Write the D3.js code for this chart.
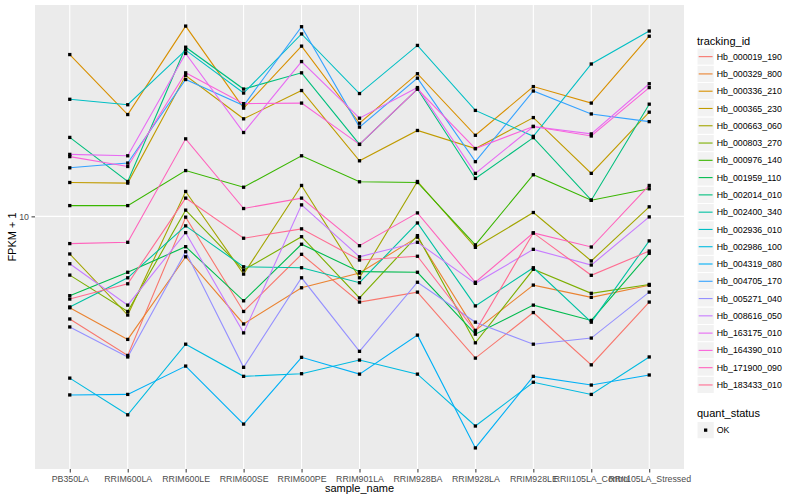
<!DOCTYPE html>
<html><head><meta charset="utf-8">
<script src="https://cdn.jsdelivr.net/npm/d3@7"></script>
<style>body{margin:0;background:#fff}text{font-family:"Liberation Sans",Arial,sans-serif}</style>
</head><body>
<svg id="c" width="800" height="500"></svg>
<script>
const samples = ["PB350LA","RRIM600LA","RRIM600LE","RRIM600SE","RRIM600PE","RRIM901LA","RRIM928BA","RRIM928LA","RRIM928LE","RRII105LA_Control","RRII105LA_Stressed"];
const trackingIds = ["Hb_000019_190","Hb_000329_800","Hb_000336_210","Hb_000365_230","Hb_000663_060","Hb_000803_270","Hb_000976_140","Hb_001959_110","Hb_002014_010","Hb_002400_340","Hb_002936_010","Hb_002986_100","Hb_004319_080","Hb_004705_170","Hb_005271_040","Hb_008616_050","Hb_163175_010","Hb_164390_010","Hb_171900_090","Hb_183433_010"];
const seriesColors = ["#F8766D","#EA8331","#D89000","#C09B00","#A3A500","#7CAE00","#39B600","#00BB4E","#00BF7D","#00C1A3","#00BFC4","#00BAE0","#00B0F6","#35A2FF","#9590FF","#C77CFF","#E76BF3","#FA62DB","#FF62BC","#FF6C91"];
const quantStatus = ["OK"];
const yTicks = [10];

// FPKM + 1 values per gene, in sample order
const hb_000019_190 = [4.56,3.45,9.94,4.83,7.48,5.19,5.60,3.38,4.79,3.21,5.19];
const hb_000329_800 = [4.97,3.90,7.34,4.39,5.79,6.48,8.53,4.18,5.91,5.38,5.90];
const hb_000336_210 = [34.5,21.8,42.9,22.9,36.8,20.4,29.8,18.6,27.0,23.8,39.7];
const hb_000365_230 = [12.96,12.9,29.4,21.1,26.2,15.3,19.3,16.8,21.3,13.9,22.2];
const hb_000663_060 = [7.50,4.70,12.10,6.43,12.67,6.25,13.06,7.89,10.30,7.11,10.76];
const hb_000803_270 = [6.38,4.83,10.49,6.63,8.56,5.36,8.63,3.80,6.67,5.55,5.94];
const hb_000976_140 = [10.86,10.86,14.2,12.5,15.9,13.03,12.96,8.04,13.75,11.32,12.35];
const hb_001959_110 = [5.45,6.52,7.93,5.24,8.08,6.55,6.52,4.06,5.07,4.51,7.54];
const hb_002014_010 = [18.3,13.06,36.5,26.5,30.0,17.35,26.5,13.37,18.27,11.32,23.6];
const hb_002400_340 = [5.00,6.25,9.30,6.80,6.75,6.02,9.51,5.04,6.75,4.45,8.29];
const hb_002936_010 = [24.5,23.5,35.7,25.7,40.4,25.6,37.0,22.5,18.45,32.1,41.3];
const hb_002986_100 = [2.90,2.19,3.76,2.94,3.00,3.33,2.99,2.01,2.81,2.56,3.41];
const hb_004319_080 = [2.55,2.56,3.18,2.04,3.40,2.99,4.03,1.70,2.94,2.75,2.97];
const hb_004705_170 = [14.5,15.04,28.5,23.35,42.7,19.8,28.8,15.2,26.1,21.9,20.65];
const hb_005271_040 = [4.29,3.41,7.63,3.15,6.25,3.56,6.04,4.45,3.76,3.94,5.60];
const hb_008616_050 = [6.96,5.07,8.83,4.10,10.92,7.34,8.20,5.99,7.77,6.89,9.96];
const hb_163175_010 = [16.07,15.9,34.8,19.0,32.7,21.2,26.8,13.9,19.9,18.8,27.6];
const hb_164390_010 = [15.8,14.65,30.0,23.7,23.8,17.35,26.5,16.8,19.9,18.5,26.8];
const hb_171900_090 = [8.12,8.20,18.1,10.62,11.50,7.99,10.27,6.04,8.81,7.91,12.67];
const hb_183433_010 = [5.31,5.97,11.50,8.46,9.09,7.16,7.37,4.15,8.81,6.37,7.67];

const seriesValues = [hb_000019_190,hb_000329_800,hb_000336_210,hb_000365_230,hb_000663_060,hb_000803_270,hb_000976_140,hb_001959_110,hb_002014_010,hb_002400_340,hb_002936_010,hb_002986_100,hb_004319_080,hb_004705_170,hb_005271_040,hb_008616_050,hb_163175_010,hb_164390_010,hb_171900_090,hb_183433_010];

const series = trackingIds.map((id,i)=>({id, color: seriesColors[i], values: seriesValues[i].map((v,j)=>({sample: samples[j], value: v}))}));

const svg = d3.select("#c");
const P = {left:35, right:684, top:5, bottom:469};

const x = d3.scalePoint().domain(samples).range([P.left, P.right]).padding(0.6);
const all = seriesValues.flat();
const lmin = Math.log10(d3.min(all)), lmax = Math.log10(d3.max(all));
const ex = (lmax - lmin) * 0.05;
const y = d3.scaleLog().domain([Math.pow(10, lmin - ex), Math.pow(10, lmax + ex)]).range([P.bottom, P.top]);

// panel
svg.append("rect").attr("x",P.left).attr("y",P.top).attr("width",P.right-P.left).attr("height",P.bottom-P.top).attr("fill","#EBEBEB");
const grid = svg.append("g");
samples.forEach(s=>grid.append("line").attr("x1",x(s)).attr("x2",x(s)).attr("y1",P.top).attr("y2",P.bottom).attr("stroke","#fff").attr("stroke-width",1.07));
yTicks.forEach(t=>grid.append("line").attr("x1",P.left).attr("x2",P.right).attr("y1",y(t)).attr("y2",y(t)).attr("stroke","#fff").attr("stroke-width",1.07));

// lines
const line = d3.line().x(d=>x(d.sample)).y(d=>y(d.value));
svg.append("g").selectAll("path").data(series).join("path")
  .attr("d", d=>line(d.values)).attr("fill","none").attr("stroke", d=>d.color).attr("stroke-width",1.1);

// points
const ps = 3.3;
svg.append("g").selectAll("g").data(series).join("g").selectAll("rect").data(d=>d.values).join("rect")
  .attr("x", d=>x(d.sample)-ps/2).attr("y", d=>y(d.value)-ps/2).attr("width",ps).attr("height",ps).attr("fill","#000");

// axes
const xAxis = d3.axisBottom(x).tickSize(3.5).tickPadding(3);
const gx = svg.append("g").attr("transform",`translate(0,${P.bottom})`).call(xAxis);
gx.select(".domain").remove();
gx.selectAll(".tick line").attr("stroke","#333").attr("stroke-width",1);
gx.selectAll(".tick text").attr("fill","#4D4D4D").style("font-size","8.8px").style("font-family","'Liberation Sans',Arial,sans-serif");

const yAxis = d3.axisLeft(y).tickValues(yTicks).tickFormat(d3.format("d")).tickSize(3.5).tickPadding(2.5);
const gy = svg.append("g").attr("transform",`translate(${P.left},0)`).call(yAxis);
gy.select(".domain").remove();
gy.selectAll(".tick line").attr("stroke","#333").attr("stroke-width",1);
gy.selectAll(".tick text").attr("fill","#4D4D4D").style("font-size","8.8px").style("font-family","'Liberation Sans',Arial,sans-serif");

svg.append("text").attr("x",(P.left+P.right)/2).attr("y",492).attr("text-anchor","middle").style("font-size","11px").attr("fill","#000").text("sample_name");
svg.append("text").attr("transform",`translate(15.5,${(P.top+P.bottom)/2}) rotate(-90)`).attr("text-anchor","middle").style("font-size","11px").attr("fill","#000").text("FPKM + 1");

// legend
const L = {x:697, top:48, key:17.28};
svg.append("text").attr("x",L.x).attr("y",44.5).style("font-size","11px").attr("fill","#000").text("tracking_id");
const lg = svg.append("g").selectAll("g").data(series).join("g").attr("transform",(d,i)=>`translate(${L.x},${L.top+i*L.key})`);
lg.append("rect").attr("width",L.key).attr("height",L.key).attr("fill","#F2F2F2").attr("stroke","#fff").attr("stroke-width",1);
lg.append("line").attr("x1",1.7).attr("x2",L.key-1.7).attr("y1",L.key/2).attr("y2",L.key/2).attr("stroke",d=>d.color).attr("stroke-width",1.1);
lg.append("text").attr("x",L.key+2.5).attr("y",L.key/2+3.1).style("font-size","8.8px").attr("fill","#000").text(d=>d.id);

const qTop = 421.5;
svg.append("text").attr("x",L.x).attr("y",417).style("font-size","11px").attr("fill","#000").text("quant_status");
const qg = svg.append("g").selectAll("g").data(quantStatus).join("g").attr("transform",(d,i)=>`translate(${L.x},${qTop+i*L.key})`);
qg.append("rect").attr("width",L.key).attr("height",L.key).attr("fill","#F2F2F2").attr("stroke","#fff").attr("stroke-width",1);
qg.append("rect").attr("x",L.key/2-ps/2).attr("y",L.key/2-ps/2).attr("width",ps).attr("height",ps).attr("fill","#000");
qg.append("text").attr("x",L.key+2.5).attr("y",L.key/2+3.1).style("font-size","8.8px").attr("fill","#000").text(d=>d);
</script>
</body></html>
